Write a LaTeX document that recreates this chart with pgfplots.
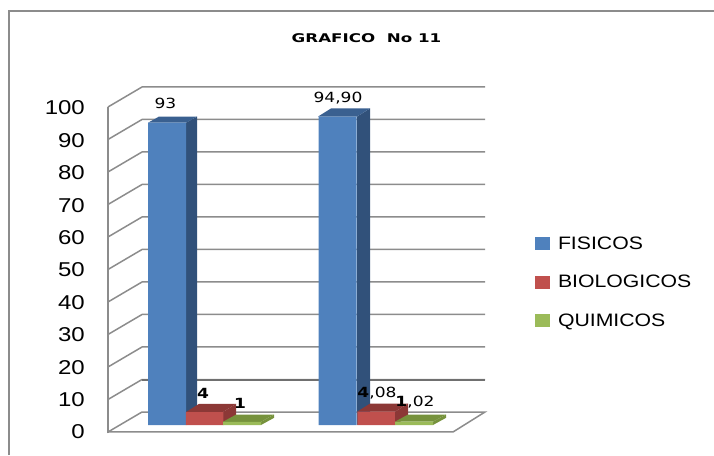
\documentclass[border=0pt]{standalone}
\usepackage{pgfplots}
\pgfplotsset{compat=1.18}
\usepackage{fontspec}
\setmainfont{Liberation Sans}
\newfontfamily\djv{DejaVu Sans}
\definecolor{gridc}{HTML}{8C8C8C}
\definecolor{blueF}{HTML}{4F81BD}
\definecolor{blueS}{HTML}{31517A}
\definecolor{blueT}{HTML}{3A6090}
\definecolor{redF}{HTML}{C0504D}
\definecolor{redS}{HTML}{8C3836}
\definecolor{greenF}{HTML}{9BBB59}
\definecolor{greenS}{HTML}{76923C}
\newcommand{\lab}[1]{{\djv\fontsize{14}{14}\selectfont\scalebox{1.22}[1]{#1}}}
\newcommand{\leg}[1]{\hspace*{6pt}\fontsize{18}{18}\selectfont\scalebox{1.18}[1]{#1}}
\begin{document}
\begin{tikzpicture}
\useasboundingbox (0,0) rectangle (714pt,455pt);
\begin{axis}[
  at={(0,0)}, anchor=south west, scale only axis,
  width=714pt, height=455pt,
  xmin=0, xmax=714, ymin=-9.2308, ymax=130.7692,
  hide axis, clip=false,
  unbounded coords=jump,
  legend image code/.code={\fill[#1] (0pt,-6.5pt) rectangle (15pt,6.5pt);},
  legend cell align=left,
  legend style={at={(axis cs:535,58.6)}, anchor=north west, draw=none, fill=none,
    inner sep=0pt, outer sep=0pt, row sep=20.5pt},
]
% outer frame
\addplot[forget plot, draw=gridc, line width=2pt] coordinates {(9,-9.2308) (9,127.4) (714,127.4)};
% walls: grid lines front -> back -> right
\addplot[forget plot, draw=gridc, line width=1.5pt] table {
108 7.85
142 14
485 14
nan nan
108 17.85
142 24
485 24
nan nan
108 27.85
142 34
485 34
nan nan
108 37.85
142 44
485 44
nan nan
108 47.85
142 54
485 54
nan nan
108 57.85
142 64
485 64
nan nan
108 67.85
142 74
485 74
nan nan
108 77.85
142 84
485 84
nan nan
108 87.85
142 94
485 94
nan nan
108 97.85
142 104
485 104
};
\addplot[forget plot, draw=gridc!80!black, line width=2pt] coordinates {(142,14) (485,14)};
% floor
\addplot[forget plot, draw=gridc, line width=1.5pt] coordinates {(108,-2.15) (142,4) (485,4) (453,-2.15) (108,-2.15)};
% vertical axis
\addplot[forget plot, draw=gridc, line width=2.5pt] coordinates {(108,-2.6) (108,97.85)};

% blue
\addplot[forget plot, fill=blueS, draw=none] coordinates {(186,0) (197,1.9) (197,94.9) (186,93)} --cycle;
\addplot[forget plot, fill=blueT, draw=none] coordinates {(148,93) (159,94.9) (197,94.9) (186,93)} --cycle;
\addplot[forget plot, fill=blueS, draw=none] coordinates {(357,0) (370,2.5) (370,97.4) (357,94.9)} --cycle;
\addplot[forget plot, fill=blueT, draw=none] coordinates {(318,94.9) (331,97.4) (370,97.4) (357,94.9)} --cycle;
\addplot[ybar, bar shift=0pt, bar width=38, fill=blueF, draw=none] coordinates {(167,93) (337.5,94.9)};
\addlegendentry{\leg{FISICOS}}
% red
\addplot[forget plot, fill=redS, draw=none] coordinates {(223,0) (236,2.5) (236,6.5) (223,4)} --cycle;
\addplot[forget plot, fill=redS, draw=none] coordinates {(186,4) (199,6.5) (236,6.5) (223,4)} --cycle;
\addplot[forget plot, fill=redS, draw=none] coordinates {(395,0) (408,2.5) (408,6.58) (395,4.08)} --cycle;
\addplot[forget plot, fill=redS, draw=none] coordinates {(357,4.08) (370,6.58) (408,6.58) (395,4.08)} --cycle;
\addplot[ybar, bar shift=0pt, bar width=37.5, fill=redF, draw=none] coordinates {(204.5,4) (376,4.08)};
\addlegendentry{\leg{BIOLOGICOS}}
% green
\addplot[forget plot, fill=greenS, draw=none] coordinates {(223,1) (236,3.2) (274,3.2) (261,1)} --cycle;
\addplot[forget plot, fill=greenS, draw=none] coordinates {(261,0) (274,2.2) (274,3.2) (261,1)} --cycle;
\addplot[forget plot, fill=greenS, draw=none] coordinates {(395,1.02) (408,3.22) (446,3.22) (433,1.02)} --cycle;
\addplot[forget plot, fill=greenS, draw=none] coordinates {(433,0) (446,2.2) (446,3.22) (433,1.02)} --cycle;
\addplot[ybar, bar shift=0pt, bar width=38, fill=greenF, draw=none] coordinates {(242,1) (414,1.02)};
\addlegendentry{\leg{QUIMICOS}}

% title
\node at (axis cs:366.5,119) {{\djv\bfseries\fontsize{12}{12}\selectfont\scalebox{1.39}[1]{GRAFICO\ \ No 11}}};
% data labels
\node at (axis cs:165.5,98.8) {\lab{93}};
\node at (axis cs:338,100.6) {\lab{94,90}};
\node at (axis cs:203,9.8) {\lab{\textbf{4}}};
\node at (axis cs:240,6.8) {\lab{\textbf{1}}};
\node at (axis cs:377,9.8) {\lab{\textbf{4},08}};
\node at (axis cs:415,7.1) {\lab{\textbf{1},02}};
\end{axis}
\begin{axis}[
  at={(108pt,23pt)}, anchor=south west, scale only axis,
  width=10pt, height=324pt,
  xmin=0, xmax=1, ymin=0, ymax=100,
  axis x line=none, axis y line=left,
  y axis line style={draw=none},
  ytick={0,10,...,100},
  major tick length=0pt,
  yticklabel={\fontsize{20}{20}\selectfont\scalebox{1.2}[1]{\pgfmathprintnumber[assume math mode=true]{\tick}}},
  yticklabel style={anchor=east, xshift=-23pt, inner sep=0pt},
]
\addplot[draw=none, forget plot] coordinates {(0,0) (1,100)};
\end{axis}
\end{tikzpicture}
\end{document}
